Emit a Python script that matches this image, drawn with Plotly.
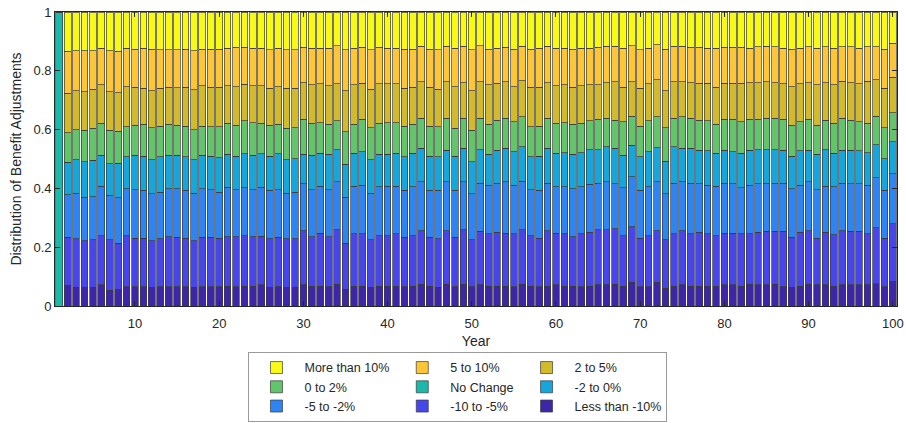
import numpy as np
import plotly.graph_objects as go

years = list(range(1, 101))

# Upper edge of each cumulative band for years 2-100 (year 1 is entirely "No Change")
edge_lt10 = [0.070, 0.063, 0.063, 0.063, 0.072, 0.054, 0.057, 0.066, 0.066, 0.066, 0.063, 0.065, 0.066, 0.065,
             0.065, 0.063, 0.065, 0.066, 0.065, 0.068, 0.066, 0.068, 0.068, 0.072, 0.063, 0.065, 0.063, 0.063,
             0.072, 0.068, 0.068, 0.065, 0.074, 0.057, 0.068, 0.068, 0.063, 0.068, 0.068, 0.068, 0.065, 0.068,
             0.074, 0.068, 0.063, 0.074, 0.065, 0.074, 0.065, 0.072, 0.068, 0.068, 0.068, 0.065, 0.074, 0.068,
             0.065, 0.068, 0.072, 0.068, 0.068, 0.065, 0.068, 0.072, 0.072, 0.074, 0.068, 0.080, 0.065, 0.065,
             0.080, 0.060, 0.068, 0.072, 0.068, 0.068, 0.068, 0.068, 0.072, 0.072, 0.068, 0.074, 0.072, 0.072,
             0.074, 0.065, 0.063, 0.068, 0.074, 0.072, 0.072, 0.068, 0.072, 0.072, 0.072, 0.072, 0.076, 0.065,
             0.085]
edge_m10 = [0.234, 0.228, 0.222, 0.225, 0.239, 0.225, 0.213, 0.239, 0.231, 0.231, 0.222, 0.228, 0.236, 0.234,
            0.231, 0.222, 0.234, 0.234, 0.231, 0.236, 0.236, 0.239, 0.236, 0.237, 0.228, 0.234, 0.228, 0.228,
            0.256, 0.236, 0.247, 0.236, 0.259, 0.213, 0.245, 0.245, 0.225, 0.239, 0.239, 0.245, 0.234, 0.239,
            0.256, 0.234, 0.228, 0.256, 0.234, 0.259, 0.225, 0.254, 0.245, 0.251, 0.247, 0.245, 0.259, 0.239,
            0.231, 0.256, 0.247, 0.245, 0.236, 0.245, 0.251, 0.259, 0.259, 0.262, 0.239, 0.270, 0.231, 0.239,
            0.256, 0.225, 0.245, 0.256, 0.245, 0.251, 0.245, 0.239, 0.247, 0.247, 0.245, 0.245, 0.251, 0.254,
            0.254, 0.254, 0.234, 0.251, 0.256, 0.231, 0.251, 0.243, 0.256, 0.254, 0.254, 0.245, 0.266, 0.231,
            0.279]
edge_m5 = [0.378, 0.384, 0.370, 0.372, 0.407, 0.376, 0.368, 0.399, 0.395, 0.393, 0.382, 0.387, 0.399, 0.399,
           0.393, 0.384, 0.399, 0.395, 0.387, 0.404, 0.395, 0.402, 0.395, 0.404, 0.393, 0.395, 0.384, 0.387,
           0.416, 0.395, 0.407, 0.395, 0.422, 0.370, 0.407, 0.410, 0.384, 0.405, 0.407, 0.407, 0.393, 0.405,
           0.422, 0.393, 0.393, 0.422, 0.393, 0.422, 0.382, 0.418, 0.410, 0.418, 0.422, 0.410, 0.425, 0.395,
           0.393, 0.418, 0.405, 0.405, 0.399, 0.405, 0.414, 0.418, 0.422, 0.416, 0.402, 0.439, 0.393, 0.405,
           0.422, 0.382, 0.418, 0.422, 0.418, 0.416, 0.410, 0.407, 0.418, 0.416, 0.402, 0.410, 0.416, 0.418,
           0.418, 0.418, 0.399, 0.410, 0.422, 0.395, 0.407, 0.405, 0.418, 0.416, 0.416, 0.410, 0.436, 0.393,
           0.450]
edge_m2 = [0.489, 0.498, 0.490, 0.495, 0.513, 0.484, 0.486, 0.507, 0.513, 0.510, 0.498, 0.507, 0.513, 0.513,
           0.507, 0.498, 0.513, 0.509, 0.505, 0.516, 0.509, 0.518, 0.513, 0.518, 0.509, 0.518, 0.498, 0.501,
           0.516, 0.513, 0.519, 0.516, 0.532, 0.482, 0.519, 0.524, 0.498, 0.516, 0.516, 0.519, 0.507, 0.519,
           0.536, 0.509, 0.507, 0.530, 0.509, 0.536, 0.490, 0.532, 0.516, 0.530, 0.536, 0.524, 0.541, 0.507,
           0.509, 0.536, 0.519, 0.521, 0.516, 0.521, 0.532, 0.532, 0.541, 0.536, 0.513, 0.547, 0.507, 0.524,
           0.539, 0.493, 0.541, 0.536, 0.536, 0.530, 0.528, 0.519, 0.530, 0.524, 0.519, 0.530, 0.532, 0.532,
           0.532, 0.530, 0.509, 0.528, 0.530, 0.516, 0.532, 0.519, 0.530, 0.530, 0.528, 0.521, 0.549, 0.501,
           0.558]
edge_z2 = [0.590, 0.600, 0.598, 0.604, 0.621, 0.598, 0.595, 0.610, 0.615, 0.618, 0.606, 0.612, 0.618, 0.615,
           0.612, 0.600, 0.612, 0.610, 0.610, 0.621, 0.615, 0.630, 0.623, 0.621, 0.615, 0.618, 0.604, 0.606,
           0.636, 0.621, 0.623, 0.619, 0.630, 0.593, 0.619, 0.635, 0.607, 0.621, 0.623, 0.623, 0.612, 0.619,
           0.638, 0.612, 0.610, 0.638, 0.604, 0.638, 0.598, 0.638, 0.619, 0.632, 0.638, 0.627, 0.644, 0.610,
           0.612, 0.638, 0.621, 0.623, 0.619, 0.621, 0.630, 0.635, 0.638, 0.632, 0.627, 0.646, 0.612, 0.630,
           0.644, 0.607, 0.638, 0.644, 0.638, 0.632, 0.630, 0.619, 0.635, 0.635, 0.627, 0.635, 0.635, 0.638,
           0.638, 0.635, 0.615, 0.627, 0.635, 0.615, 0.632, 0.621, 0.638, 0.632, 0.627, 0.621, 0.646, 0.607,
           0.657]
edge_p5 = [0.724, 0.733, 0.729, 0.737, 0.752, 0.729, 0.726, 0.746, 0.744, 0.741, 0.733, 0.741, 0.744, 0.743,
           0.744, 0.735, 0.749, 0.744, 0.744, 0.749, 0.746, 0.755, 0.749, 0.749, 0.741, 0.746, 0.741, 0.741,
           0.760, 0.752, 0.756, 0.749, 0.756, 0.733, 0.752, 0.758, 0.737, 0.756, 0.756, 0.756, 0.741, 0.744,
           0.763, 0.744, 0.737, 0.763, 0.746, 0.760, 0.733, 0.763, 0.752, 0.758, 0.763, 0.746, 0.767, 0.744,
           0.744, 0.760, 0.749, 0.752, 0.744, 0.749, 0.752, 0.752, 0.760, 0.763, 0.744, 0.763, 0.741, 0.756,
           0.769, 0.733, 0.763, 0.763, 0.760, 0.758, 0.758, 0.744, 0.758, 0.758, 0.758, 0.760, 0.760, 0.763,
           0.760, 0.756, 0.746, 0.756, 0.760, 0.752, 0.760, 0.752, 0.764, 0.760, 0.756, 0.764, 0.769, 0.741,
           0.778]
edge_p10 = [0.866, 0.868, 0.868, 0.868, 0.877, 0.869, 0.866, 0.877, 0.874, 0.877, 0.874, 0.872, 0.872, 0.872,
            0.874, 0.869, 0.874, 0.874, 0.874, 0.877, 0.880, 0.880, 0.877, 0.877, 0.872, 0.877, 0.872, 0.872,
            0.880, 0.877, 0.877, 0.877, 0.885, 0.872, 0.877, 0.880, 0.872, 0.880, 0.877, 0.877, 0.874, 0.874,
            0.883, 0.874, 0.872, 0.883, 0.877, 0.883, 0.872, 0.885, 0.874, 0.877, 0.880, 0.874, 0.883, 0.874,
            0.877, 0.883, 0.877, 0.877, 0.874, 0.877, 0.877, 0.880, 0.883, 0.883, 0.877, 0.885, 0.872, 0.877,
            0.889, 0.874, 0.883, 0.883, 0.880, 0.880, 0.877, 0.877, 0.880, 0.880, 0.880, 0.877, 0.881, 0.883,
            0.881, 0.877, 0.874, 0.877, 0.881, 0.877, 0.881, 0.877, 0.881, 0.881, 0.877, 0.881, 0.881, 0.874,
            0.894]
no_change = [1.0] + [0.0] * 99

# Turn band edges into per-year shares (year 1 contributes only to "No Change")
edges = np.array([np.zeros(99), edge_lt10, edge_m10, edge_m5, edge_m2,
                  edge_m2, edge_z2, edge_p5, edge_p10, np.ones(99)])
shares_later = np.diff(edges, axis=0)
shares = np.hstack([np.zeros((9, 1)), shares_later])
shares[4] = no_change

categories = ["Less than -10%", "-10 to -5%", "-5 to -2%", "-2 to 0%", "No Change",
              "0 to 2%", "2 to 5%", "5 to 10%", "More than 10%"]
colors = ["#3e26a8", "#4646ec", "#2d85f5", "#15a7dc", "#1cb9aa",
          "#62c56a", "#d2ba2a", "#fec634", "#f8fa12"]
# legend laid out as three columns, read row by row
legend_group = ["c", "b", "a", "c", "b", "a", "c", "b", "a"]
legend_rank = [9, 6, 3, 8, 5, 2, 7, 4, 1]

fig = go.Figure()
for i, name in enumerate(categories):
    fig.add_trace(go.Bar(
        x=years, y=shares[i], name=name,
        marker=dict(color=colors[i], line=dict(color="#3a3a3a", width=0.7)),
        legendgroup=legend_group[i], legendrank=legend_rank[i],
    ))

axis_style = dict(showline=True, linecolor="#262626", linewidth=0.8, mirror="ticks",
                  ticks="inside", ticklen=5, tickcolor="#262626", showgrid=False, zeroline=False,
                  automargin=False, tickfont=dict(size=13, color="#262626"))

fig.update_layout(
    width=906, height=423,
    margin=dict(l=55, r=9, t=12, b=117, autoexpand=False),
    barmode="stack", bargap=0.2,
    plot_bgcolor="white", paper_bgcolor="white",
    font=dict(family="Liberation Sans, Arial, sans-serif", size=13, color="#262626"),
    xaxis=dict(range=[0.5, 100.5], tickvals=[10, 20, 30, 40, 50, 60, 70, 80, 90, 100],
               ticklabelstandoff=5,
               title=dict(text="Year", font=dict(size=14), standoff=6), **axis_style),
    yaxis=dict(range=[0, 1], tickvals=[0, 0.2, 0.4, 0.6, 0.8, 1],
               ticktext=["0", "0.2", "0.4", "0.6", "0.8", "1"],
               title=dict(text="Distribution of Benefit Adjustments", font=dict(size=14), standoff=8),
               **axis_style),
    legend=dict(orientation="h", traceorder="grouped",
                xref="container", x=0.5055, xanchor="center",
                yref="container", y=0.168, yanchor="top",
                bordercolor="#9a9a9a", borderwidth=1,
                font=dict(size=12.5, color="#262626"), tracegroupgap=0, itemwidth=46,
                bgcolor="white"),
)

fig.write_html("out.html")
